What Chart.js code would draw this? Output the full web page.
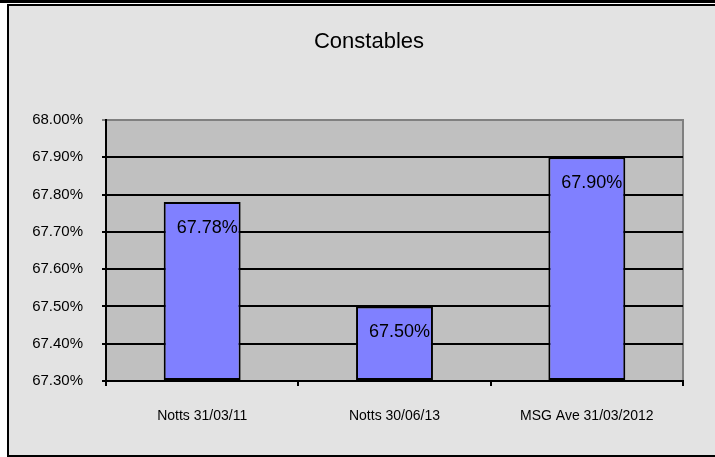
<!DOCTYPE html>
<html>
<head>
<meta charset="utf-8">
<script src="https://cdn.jsdelivr.net/npm/chart.js@4.4.0/dist/chart.umd.min.js"></script>
<style>
  html, body { margin: 0; padding: 0; background: #ffffff; }
  #wrap { width: 715px; height: 457px; position: relative; }
</style>
</head>
<body>
<div id="wrap"><canvas id="c" width="715" height="457"></canvas></div>
<script>
// Share of constables, by reporting point
const categories = ['Notts 31/03/11', 'Notts 30/06/13', 'MSG Ave 31/03/2012'];
const values = [67.78, 67.50, 67.90];
const titleText = 'Constables';
const yMin = 67.30;
const yMax = 68.00;
const yStep = 0.10;

const FONT = "'Liberation Sans', Arial, sans-serif";

// Frame, panel background and plot-area fill
const framePlugin = {
  id: 'frame',
  beforeDraw(chart) {
    const { ctx, width, height, chartArea } = chart;
    ctx.save();
    ctx.fillStyle = '#ffffff';
    ctx.fillRect(0, 0, width, height);
    ctx.fillStyle = '#e3e3e3';
    ctx.fillRect(8, 6, width - 8, height - 7);
    // outer frame lines
    ctx.fillStyle = '#000000';
    ctx.fillRect(0, 0, width, 3);
    ctx.fillRect(7, 4, width - 7, 2);
    ctx.fillRect(7, 4, 2, height - 4);
    ctx.fillRect(7, height - 2, width - 7, 2);
    // plot area
    ctx.fillStyle = '#c0c0c0';
    ctx.fillRect(chartArea.left, chartArea.top, chartArea.right - chartArea.left, chartArea.bottom - chartArea.top);
    ctx.strokeStyle = '#808080';
    ctx.lineWidth = 2;
    ctx.beginPath();
    ctx.moveTo(chartArea.left, chartArea.top);
    ctx.lineTo(chartArea.right, chartArea.top);
    ctx.lineTo(chartArea.right, chartArea.bottom);
    ctx.stroke();
    // title
    ctx.fillStyle = '#000000';
    ctx.font = '22px ' + FONT;
    ctx.textAlign = 'center';
    ctx.textBaseline = 'middle';
    ctx.fillText(titleText, 369, 42);
    ctx.restore();
  }
};

// Value labels inside the top of each bar
const valueLabels = {
  id: 'valueLabels',
  afterDatasetsDraw(chart) {
    const { ctx } = chart;
    const meta = chart.getDatasetMeta(0);
    ctx.save();
    ctx.fillStyle = '#000000';
    ctx.font = '18px ' + FONT;
    ctx.textAlign = 'center';
    ctx.textBaseline = 'middle';
    meta.data.forEach((bar, i) => {
      const v = chart.data.datasets[0].data[i];
      ctx.fillText(v.toFixed(2) + '%', bar.x + 5, bar.y + 26);
    });
    ctx.restore();
  }
};

new Chart(document.getElementById('c'), {
  type: 'bar',
  data: {
    labels: categories,
    datasets: [{
      data: values,
      backgroundColor: '#8080ff',
      borderColor: '#000000',
      borderWidth: 2,
      borderSkipped: false,
      barPercentage: 0.4,
      categoryPercentage: 1.0,
      base: yMin
    }]
  },
  options: {
    responsive: false,
    animation: false,
    events: [],
    layout: { padding: { left: 0, right: 32, top: 120, bottom: 0 } },
    plugins: {
      legend: { display: false },
      title: { display: false },
      tooltip: { enabled: false }
    },
    scales: {
      x: {
        offset: true,
        grid: {
          offset: true,
          drawOnChartArea: false,
          drawTicks: true,
          tickLength: 5,
          color: '#000000',
          lineWidth: 2
        },
        border: { display: true, color: '#000000', width: 2 },
        ticks: {
          color: '#000000',
          font: { family: FONT, size: 14 },
          padding: 22,
          maxRotation: 0
        },
        afterFit(scale) { scale.height = 76; }
      },
      y: {
        min: yMin,
        max: yMax,
        grid: {
          color: (c) => (c.tick && Math.abs(c.tick.value - yMax) < 1e-6) ? '#808080' : '#000000',
          lineWidth: 2,
          drawTicks: true,
          tickLength: 4
        },
        border: { display: true, color: '#000000', width: 2 },
        ticks: {
          stepSize: yStep,
          color: '#000000',
          font: { family: FONT, size: 15 },
          padding: 19,
          callback: (v) => Number(v).toFixed(2) + '%'
        },
        afterFit(scale) { scale.width = 106; }
      }
    }
  },
  plugins: [framePlugin, valueLabels]
});
</script>
</body>
</html>
